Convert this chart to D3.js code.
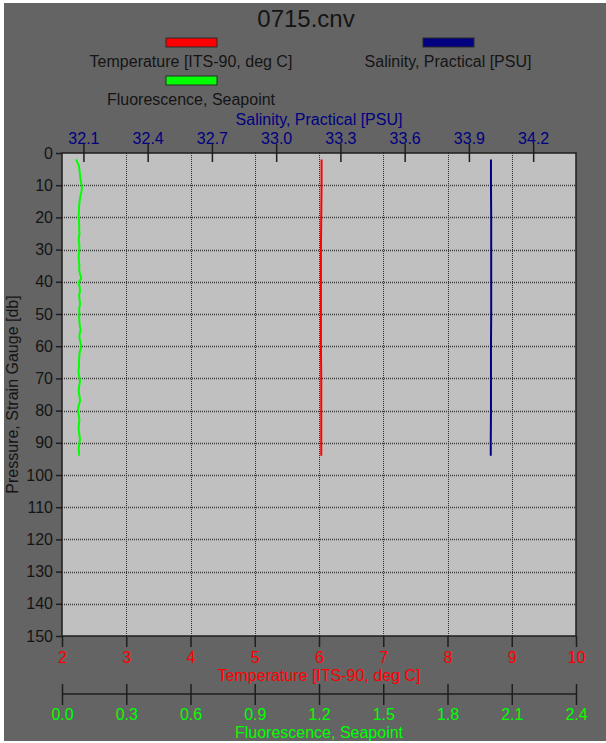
<!DOCTYPE html>
<html>
<head>
<meta charset="utf-8">
<script src="https://cdn.jsdelivr.net/npm/d3@7"></script>
<style>
  html, body { margin: 0; padding: 0; background: #ffffff; }
  svg { display: block; }
  text { font-family: "Liberation Sans", Arial, Helvetica, sans-serif; }
</style>
</head>
<body>
<svg id="chart" width="606" height="743"></svg>
<script>
// ---------- data ----------
const chartTitle = "0715.cnv";
const seriesNames = ["Temperature [ITS-90, deg C]", "Salinity, Practical [PSU]", "Fluorescence, Seapoint"];
const seriesColors = ["#ff0000", "#000080", "#00ff00"];
const pressureTitle = "Pressure, Strain Gauge [db]";

const pressureTicks = [0, 10, 20, 30, 40, 50, 60, 70, 80, 90, 100, 110, 120, 130, 140, 150];
const temperatureTicks = [2, 3, 4, 5, 6, 7, 8, 9, 10];
const salinityTicks = [32.1, 32.4, 32.7, 33.0, 33.3, 33.6, 33.9, 34.2];
const fluorescenceTicks = [0.0, 0.3, 0.6, 0.9, 1.2, 1.5, 1.8, 2.1, 2.4];

const flPressure = [2, 3, 4, 5, 6, 7, 8, 9, 10, 11, 12, 13, 14, 15, 16, 17, 18, 19, 20,
  21, 22, 23, 24, 25, 26, 27, 28, 29, 30, 31, 32, 33, 34, 35, 36, 37, 38, 39, 40,
  41, 42, 43, 44, 45, 46, 47, 48, 49, 50, 51, 52, 53, 54, 55, 56, 57, 58, 59, 60,
  61, 62, 63, 64, 65, 66, 67, 68, 69, 70, 71, 72, 73, 74, 75, 76, 77, 78, 79, 80,
  81, 82, 83, 84, 85, 86, 87, 88, 89, 90, 91, 92, 93, 94];
const fluorescence = [0.066, 0.072, 0.079, 0.081, 0.083, 0.084, 0.086, 0.089, 0.091, 0.093,
  0.091, 0.087, 0.084, 0.082, 0.081, 0.079, 0.080, 0.078, 0.078, 0.080,
  0.079, 0.081, 0.080, 0.082, 0.079, 0.078, 0.080, 0.081, 0.081, 0.079,
  0.078, 0.078, 0.080, 0.081, 0.080, 0.082, 0.086, 0.090, 0.079, 0.080,
  0.083, 0.084, 0.080, 0.081, 0.083, 0.084, 0.081, 0.080, 0.082, 0.080,
  0.081, 0.082, 0.084, 0.087, 0.083, 0.081, 0.083, 0.087, 0.090, 0.086,
  0.082, 0.081, 0.080, 0.079, 0.080, 0.078, 0.077, 0.079, 0.082, 0.084,
  0.081, 0.079, 0.078, 0.080, 0.083, 0.084, 0.080, 0.076, 0.074, 0.077,
  0.080, 0.081, 0.079, 0.078, 0.078, 0.080, 0.082, 0.084, 0.081, 0.079,
  0.078, 0.080, 0.079];

const tsPressure = [2, 10, 20, 30, 40, 50, 60, 70, 80, 90, 94];
const temperature = [6.04, 6.04, 6.035, 6.03, 6.03, 6.03, 6.03, 6.035, 6.035, 6.035, 6.035];
const salinity = [34.003, 34.003, 34.004, 34.004, 34.004, 34.004, 34.003, 34.003, 34.003, 34.002, 34.002];

// ---------- layout ----------
const W = 606, H = 743;
const plot = { left: 62, right: 576, top: 153, bottom: 636 };

const svg = d3.select("#chart");

svg.append("rect").attr("x", 4).attr("y", 3).attr("width", W - 4).attr("height", H - 5)
  .attr("fill", "#646464");

const y = d3.scaleLinear().domain([0, 150]).range([plot.top, plot.bottom]);
const xT = d3.scaleLinear().domain([2, 10]).range([plot.left, plot.right]);
const xS = d3.scaleLinear().domain([32.0, 34.4]).range([plot.left, plot.right]);
const xF = d3.scaleLinear().domain([0, 2.4]).range([plot.left, plot.right]);

// plot area
svg.append("rect").attr("x", plot.left).attr("y", plot.top)
  .attr("width", plot.right - plot.left).attr("height", plot.bottom - plot.top)
  .attr("fill", "#c0c0c0");

// grid
const grid = svg.append("g");
grid.selectAll("line.h").data(pressureTicks.slice(1, -1)).join("line")
  .attr("x1", plot.left).attr("x2", plot.right)
  .attr("y1", d => Math.round(y(d)) + 0.5).attr("y2", d => Math.round(y(d)) + 0.5)
  .attr("stroke", "#3a3a3a").attr("stroke-width", 1.6).attr("stroke-dasharray", "1,1");
grid.selectAll("line.v").data(temperatureTicks.slice(1, -1)).join("line")
  .attr("x1", d => Math.round(xT(d)) + 0.5).attr("x2", d => Math.round(xT(d)) + 0.5)
  .attr("y1", plot.top).attr("y2", plot.bottom)
  .attr("stroke", "#303030").attr("stroke-width", 1).attr("stroke-dasharray", "1,1");

// lines
const lineF = d3.line().x(d => xF(d[1])).y(d => y(d[0]));
svg.append("path").datum(flPressure.map((p, i) => [p, fluorescence[i]]))
  .attr("d", lineF).attr("fill", "none").attr("stroke", seriesColors[2]).attr("stroke-width", 2);
const lineT = d3.line().x(d => xT(d[1])).y(d => y(d[0]));
svg.append("path").datum(tsPressure.map((p, i) => [p, temperature[i]]))
  .attr("d", lineT).attr("fill", "none").attr("stroke", seriesColors[0]).attr("stroke-width", 2);
const lineS = d3.line().x(d => xS(d[1])).y(d => y(d[0]));
svg.append("path").datum(tsPressure.map((p, i) => [p, salinity[i]]))
  .attr("d", lineS).attr("fill", "none").attr("stroke", seriesColors[1]).attr("stroke-width", 2);

// plot border
svg.append("rect").attr("x", plot.left).attr("y", plot.top)
  .attr("width", plot.right - plot.left).attr("height", plot.bottom - plot.top)
  .attr("fill", "none").attr("stroke", "#1e1e1e").attr("stroke-width", 1.5);

// ---------- axes ----------
function styleAxis(g, color) {
  g.select(".domain").remove();
  g.selectAll(".tick line").attr("stroke", "#1e1e1e").attr("stroke-width", 1.5);
  g.selectAll(".tick text").attr("fill", color).style("font-size", "16px")
    .style("font-family", '"Liberation Sans", Arial, sans-serif');
}

// pressure (left)
const gP = svg.append("g").attr("transform", `translate(${plot.left},0)`)
  .call(d3.axisLeft(y).tickValues(pressureTicks).tickSize(6).tickPadding(3).tickFormat(d3.format("d")));
styleAxis(gP, "#141414");

// salinity (top)
const gS = svg.append("g").attr("transform", `translate(0,${plot.top})`)
  .call(d3.axisTop(xS).tickValues(salinityTicks).tickSize(9).tickFormat(d3.format(".1f")));
styleAxis(gS, "#000080");
gS.selectAll(".tick line").attr("y1", 9).attr("y2", -9);
gS.selectAll(".tick text").attr("y", -9).attr("dy", 0);

// temperature (bottom)
const gT = svg.append("g").attr("transform", `translate(0,${plot.bottom})`)
  .call(d3.axisBottom(xT).tickValues(temperatureTicks).tickSize(11).tickPadding(2).tickFormat(d3.format("d")));
styleAxis(gT, "#ff0000");
gT.selectAll(".tick text").attr("y", 27).attr("dy", 0);

// fluorescence (separate bottom axis)
const flY = 694;
const gF = svg.append("g").attr("transform", `translate(0,${flY})`)
  .call(d3.axisBottom(xF).tickValues(fluorescenceTicks).tickSize(0).tickFormat(d3.format(".1f")));
styleAxis(gF, "#00ff00");
gF.selectAll(".tick line").attr("y1", -10).attr("y2", 11);
gF.selectAll(".tick text").attr("y", 26).attr("dy", 0);
gF.append("line").attr("x1", plot.left).attr("x2", plot.right).attr("y1", 0).attr("y2", 0)
  .attr("stroke", "#1e1e1e").attr("stroke-width", 1.5);

// axis titles
const cx = (plot.left + plot.right) / 2;
svg.append("text").attr("x", cx).attr("y", 681).attr("text-anchor", "middle")
  .attr("fill", "#ff0000").style("font-size", "16px").text(seriesNames[0]);
svg.append("text").attr("x", cx).attr("y", 738).attr("text-anchor", "middle")
  .attr("fill", "#00ff00").style("font-size", "16px").text(seriesNames[2]);
svg.append("text").attr("x", 319).attr("y", 125).attr("text-anchor", "middle")
  .attr("fill", "#000080").style("font-size", "16px").text(seriesNames[1]);
svg.append("text").attr("transform", `translate(18,${(plot.top + plot.bottom) / 2}) rotate(-90)`)
  .attr("text-anchor", "middle").attr("fill", "#141414").style("font-size", "16px").text(pressureTitle);

// title
svg.append("text").attr("x", 306).attr("y", 27).attr("text-anchor", "middle")
  .attr("fill", "#141414").style("font-size", "24px").text(chartTitle);

// legend
const legendItems = [
  { name: seriesNames[0], color: seriesColors[0], cx: 191, ry: 38, ty: 67 },
  { name: seriesNames[1], color: seriesColors[1], cx: 448, ry: 38, ty: 67 },
  { name: seriesNames[2], color: seriesColors[2], cx: 191, ry: 76, ty: 105 }
];
const lg = svg.append("g");
lg.selectAll("rect").data(legendItems).join("rect")
  .attr("x", d => d.cx - 25).attr("y", d => d.ry).attr("width", 51).attr("height", 9)
  .attr("fill", d => d.color).attr("stroke", "#2a2a2a").attr("stroke-width", 1);
lg.selectAll("text").data(legendItems).join("text")
  .attr("x", d => d.cx).attr("y", d => d.ty).attr("text-anchor", "middle")
  .attr("fill", "#141414").style("font-size", "16px").text(d => d.name);
</script>
</body>
</html>
